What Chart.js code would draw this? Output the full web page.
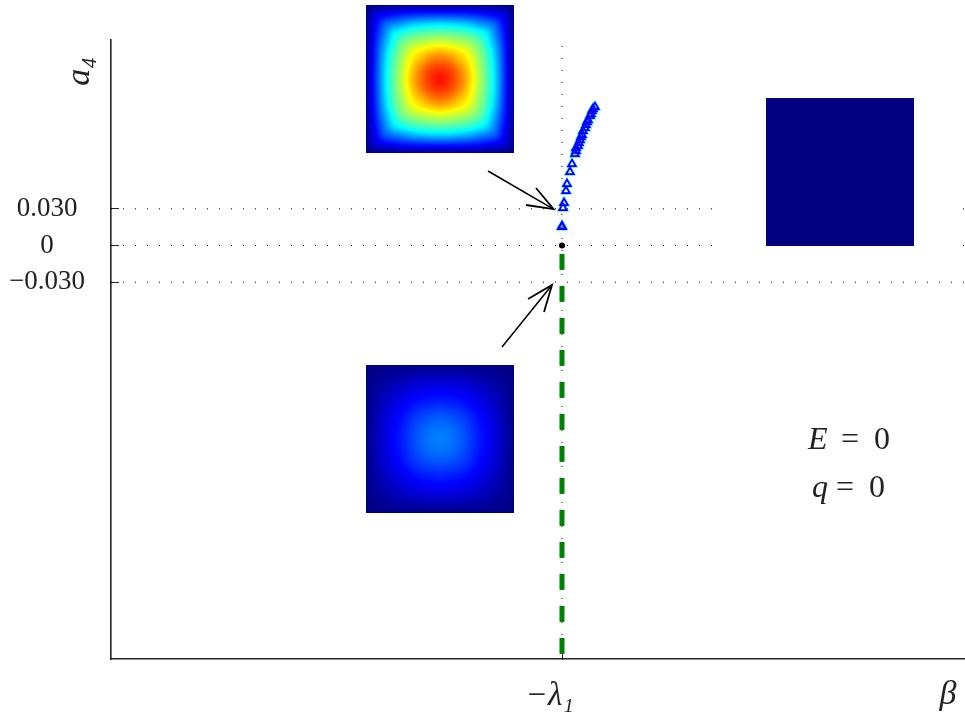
<!DOCTYPE html>
<html>
<head>
<meta charset="utf-8">
<style>html,body{margin:0;padding:0;background:#fff}canvas{display:block}</style>
<script src="https://cdn.jsdelivr.net/npm/chart.js@4"></script>
</head>
<body>
<canvas id="c" width="965" height="717"></canvas>
<script>
// ---- axis ----
const xTickValues = [-1];
const xTickLabels = ['\u2212\u03bb\u2081\u00a0\u00a0\u00a0'];
const yTickValues = [-0.03, 0, 0.03];
const yTickLabels = ['\u22120.030', '0', '0.030'];

// ---- blue triangle branch ----
const triBeta = [-1,-1,-0.99,-0.98,-0.96,-0.95,-0.92,-0.90,-0.87,-0.86,-0.86,-0.84,-0.83,-0.82,-0.81,-0.80,-0.79,-0.77,-0.76,-0.75,-0.74,-0.72,-0.71,-0.70,-0.69,-0.67];
const triA4  = [0.0151,0.0159,0.0307,0.0348,0.0446,0.0503,0.0601,0.0666,0.0748,0.0773,0.0797,0.0814,0.0838,0.0863,0.0887,0.0904,0.0936,0.0961,0.0985,0.1010,0.1026,0.1059,0.1075,0.1100,0.1116,0.1132];

// ---- green branch ----
const greenBeta = [-1,-1];
const greenA4 = [-0.0069,-0.3340];

// ---- black point ----
const dotBeta = [-1];
const dotA4 = [0];

// ---- arrows ----
const upperShaftBeta = [-1.74,-1.085], upperShaftA4 = [0.0609,0.0298];
const upperHeadBeta = [-1.26,-1.085,-1.36], upperHeadA4 = [0.0470,0.0298,0.0331];
const lowerShaftBeta = [-1.60,-1.10], lowerShaftA4 = [-0.0830,-0.0323];
const lowerHeadBeta = [-1.34,-1.10,-1.18], lowerHeadA4 = [-0.0437,-0.0323,-0.0544];

// ---- inset images: one quadrant of each field ----
const insetUpper = [
[0,.015,.025,.03,.035,.04,.04,.04,.04],
[.015,.09,.115,.135,.15,.16,.165,.17,.17],
[.025,.115,.21,.25,.28,.31,.325,.335,.34],
[.03,.135,.25,.355,.40,.435,.455,.465,.47],
[.035,.15,.28,.40,.48,.525,.55,.57,.58],
[.04,.16,.31,.435,.525,.60,.645,.675,.69],
[.04,.165,.325,.455,.55,.645,.70,.755,.77],
[.04,.17,.335,.465,.57,.675,.755,.81,.83],
[.04,.17,.34,.47,.58,.69,.77,.83,.86]];
const insetLower = [
[0,.005,.008,.011,.013,.014,.015,.015,.015],
[.005,.012,.02,.03,.035,.042,.046,.05,.05],
[.008,.02,.035,.05,.062,.075,.083,.088,.09],
[.011,.03,.05,.07,.088,.105,.115,.122,.125],
[.013,.035,.062,.088,.11,.13,.145,.152,.155],
[.014,.042,.075,.105,.13,.155,.175,.185,.19],
[.015,.046,.083,.115,.145,.175,.2,.215,.22],
[.015,.05,.088,.122,.152,.185,.215,.235,.24],
[.015,.05,.09,.125,.155,.19,.22,.24,.25]];
const insetNavy = [[0,0],[0,0]];

const xRange = [-5.51, 3.03];
const yRange = [-0.3381, 0.168];

const toPts = (xs, ys) => xs.map((x, i) => ({x, y: ys[i]}));
const lineDs = (xs, ys, extra) => Object.assign({
  data: toPts(xs, ys), showLine: true, pointRadius: 0, borderColor: '#000',
  borderWidth: 1.5, fill: false, tension: 0
}, extra);
const dotted = {borderDash: [1, 11], borderWidth: 1, borderColor: '#000'};

function jet(v) {
  const c = t => Math.round(255 * Math.max(0, Math.min(1, 1.5 - Math.abs(4 * v - t))));
  return [c(3), c(2), c(1)];
}
function cubic(p0, p1, p2, p3, t) {
  return p1 + 0.5 * t * (p2 - p0 + t * (2 * p0 - 5 * p1 + 4 * p2 - p3 + t * (3 * (p1 - p2) + p3 - p0)));
}
function paintInset(ctx, table, x0, y0, size) {
  const off = document.createElement('canvas');
  off.width = off.height = size;
  const o = off.getContext('2d'), im = o.createImageData(size, size);
  const n = table.length - 1;
  const at = (r, c) => {
    const m = k => { k = Math.abs(k); return k > n ? 2 * n - k : k; };
    return table[m(r)][m(c)];
  };
  for (let j = 0; j < size; j++) for (let i = 0; i < size; i++) {
    const fold = k => { const f = (k + 0.5) / size; return Math.min(f, 1 - f) * 2 * n; };
    const a = fold(i), b = fold(j);
    const ia = Math.min(Math.floor(a), n - 1), ib = Math.min(Math.floor(b), n - 1);
    const ta = a - ia, tb = b - ib;
    const rows = [-1, 0, 1, 2].map(d => cubic(at(ib + d, ia - 1), at(ib + d, ia), at(ib + d, ia + 1), at(ib + d, ia + 2), ta));
    const v = cubic(rows[0], rows[1], rows[2], rows[3], tb);
    const rgb = jet(v), p = 4 * (j * size + i);
    im.data[p] = rgb[0]; im.data[p + 1] = rgb[1]; im.data[p + 2] = rgb[2]; im.data[p + 3] = 255;
  }
  o.putImageData(im, 0, 0);
  ctx.drawImage(off, x0, y0);
}

const insetPlugin = {
  id: 'insets',
  afterDatasetsDraw(chart) {
    const {ctx, scales: {x, y}} = chart;
    ctx.save();
    ctx.fillStyle = '#fff';
    ctx.fillRect(x.getPixelForValue(0.52), y.getPixelForValue(0.04), x.getPixelForValue(3.0) - x.getPixelForValue(0.52), y.getPixelForValue(-0.01) - y.getPixelForValue(0.04));
    const place = (t, b, a) => paintInset(ctx, t, Math.round(x.getPixelForValue(b)) - 74, Math.round(y.getPixelForValue(a)) - 74, 148);
    place(insetUpper, -2.22, 0.1361);
    place(insetLower, -2.22, -0.1582);
    place(insetNavy, 1.78, 0.0601);
    // E = 0 / q = 0
    ctx.fillStyle = '#222';
    ctx.textBaseline = 'alphabetic';
    ctx.textAlign = 'left';
    const text = (s, b, a, style) => { ctx.font = style + ' 32px "Liberation Serif"'; ctx.fillText(s, x.getPixelForValue(b), y.getPixelForValue(a)); };
    text('E', 1.46, -0.1660, 'italic');
    text('=', 1.79, -0.1660, 'normal');
    text('0', 2.12, -0.1660, 'normal');
    text('q', 1.50, -0.2060, 'italic');
    text('=', 1.74, -0.2060, 'normal');
    text('0', 2.07, -0.2060, 'normal');
    ctx.restore();
  }
};

new Chart(document.getElementById('c'), {
  type: 'scatter',
  plugins: [insetPlugin],
  data: {
    datasets: [
      {data: toPts(dotBeta, dotA4), pointStyle: 'circle', pointRadius: 3, backgroundColor: '#000', borderColor: '#000', borderWidth: 0},
      {data: toPts(triBeta, triA4), pointStyle: 'triangle', pointRadius: 4.4, backgroundColor: 'rgba(0,0,0,0)', borderColor: '#0000ff', borderWidth: 1.7},
      {data: toPts(triBeta, triA4), pointStyle: 'triangle', pointRadius: 4.8, backgroundColor: 'rgba(0,0,0,0)', borderColor: 'rgba(0,200,255,0.55)', borderWidth: 2.6},
      lineDs(upperShaftBeta, upperShaftA4),
      lineDs(upperHeadBeta, upperHeadA4, {borderWidth: 1.8}),
      lineDs(lowerShaftBeta, lowerShaftA4),
      lineDs(lowerHeadBeta, lowerHeadA4, {borderWidth: 1.8}),
      lineDs(greenBeta, greenA4, {borderColor: '#008000', borderWidth: 5, borderDash: [16, 16]}),
      lineDs([xRange[0], xRange[1]], [yTickValues[2], yTickValues[2]], dotted),
      lineDs([xRange[0], xRange[1]], [yTickValues[1], yTickValues[1]], dotted),
      lineDs([xRange[0], xRange[1]], [yTickValues[0], yTickValues[0]], dotted),
      lineDs([xTickValues[0], xTickValues[0]], [yRange[0], yRange[1]], dotted)
    ]
  },
  options: {
    responsive: false,
    animation: false,
    layout: {autoPadding: false, padding: {top: 40, left: 0, right: 0, bottom: 0}},
    plugins: {legend: {display: false}, tooltip: {enabled: false}},
    scales: {
      x: {
        type: 'linear', min: xRange[0], max: xRange[1],
        afterBuildTicks(s) { s.ticks = xTickValues.map(value => ({value})); },
        afterFit(s) { s.height = 58; s.paddingLeft = 0; s.paddingRight = 0; },
        grid: {drawOnChartArea: false, drawTicks: true, tickLength: -8, color: '#222', lineWidth: 1},
        border: {display: true, color: '#222', width: 1.6},
        ticks: {
          autoSkip: false, maxRotation: 0, minRotation: 0, padding: 26, color: '#222',
          font: {family: '"Liberation Serif"', size: 33, style: 'italic'},
          callback: (v, i) => xTickLabels[i]
        },
        title: {display: true, text: '\u03b2\u00a0', align: 'end', color: '#222',
          font: {family: '"Liberation Serif"', size: 34, style: 'italic'}, padding: {top: 0, bottom: 2}}
      },
      y: {
        type: 'linear', min: yRange[0], max: yRange[1],
        afterBuildTicks(s) { s.ticks = yTickValues.map(value => ({value})); },
        afterFit(s) { s.width = 111; s.paddingTop = 0; s.paddingBottom = 0; },
        grid: {drawOnChartArea: false, drawTicks: true, tickLength: -8, color: '#222', lineWidth: 1},
        border: {display: true, color: '#222', width: 1.6},
        ticks: {
          autoSkip: false, padding: 34, crossAlign: 'center', color: '#222',
          font: {family: '"Liberation Serif"', size: 27},
          callback: (v, i) => yTickLabels[i]
        },
        title: {display: true, text: 'a\u2084\u00a0\u00a0', align: 'end', color: '#222',
          font: {family: '"Liberation Serif"', size: 34, style: 'italic'}, padding: {top: 60, bottom: 0}}
      }
    }
  }
});
</script>
</body>
</html>
